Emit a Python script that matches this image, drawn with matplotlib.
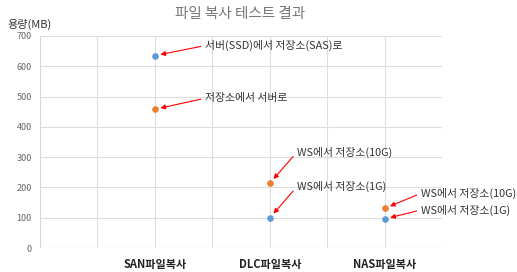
import matplotlib.pyplot as plt

plt.rcParams['font.family'] = ['Noto Sans CJK KR', 'DejaVu Sans']

categories = ['SAN파일복사', 'DLC파일복사', 'NAS파일복사']
cat_x = [1, 2, 3]
blue_vals = [635, 100, 96]
orange_vals = [458, 214, 131]
blue_notes = ['서버(SSD)에서 저장소(SAS)로', 'WS에서 저장소(1G)', 'WS에서 저장소(1G)']
orange_notes = ['저장소에서 서버로', 'WS에서 저장소(10G)', 'WS에서 저장소(10G)']

# text offsets in pixels from each point
blue_off = [(50, 10), (27, 31), (36, 9)]
orange_off = [(50, 11), (27, 31), (36, 15)]

fig = plt.figure(figsize=(5.17, 2.72), dpi=100)
ax = fig.add_axes([0.0774, 0.088, 0.778, 0.78])

ax.scatter(cat_x, blue_vals, color='#5B9BD5', s=14, zorder=3)
ax.scatter(cat_x, orange_vals, color='#ED7D31', s=14, zorder=3)

for x, y, t, off in zip(cat_x, blue_vals, blue_notes, blue_off):
    ax.annotate(t, xy=(x, y), xytext=off, textcoords='offset pixels',
                ha='left', va='center', fontsize=7.8, color='#333333',
                arrowprops=dict(arrowstyle='-|>', color='red', lw=0.8,
                                mutation_scale=7, shrinkA=1, shrinkB=4,
                                relpos=(0, 0.5)))
for x, y, t, off in zip(cat_x, orange_vals, orange_notes, orange_off):
    ax.annotate(t, xy=(x, y), xytext=off, textcoords='offset pixels',
                ha='left', va='center', fontsize=7.8, color='#333333',
                arrowprops=dict(arrowstyle='-|>', color='red', lw=0.8,
                                mutation_scale=7, shrinkA=1, shrinkB=4,
                                relpos=(0, 0.5)))

ax.set_xlim(0, 3.5)
ax.set_ylim(0, 700)
ax.set_yticks(range(0, 701, 100))
xt = [i * 0.5 for i in range(8)]
ax.set_xticks(xt)
ax.set_xticklabels(['' if v not in cat_x else categories[cat_x.index(v)] for v in xt],
                   fontweight='bold', fontsize=8, color='#222222')
ax.tick_params(length=0, labelsize=6.5, labelcolor='#666666', axis='y', pad=6)
ax.tick_params(axis='x', length=0, pad=7)
ax.grid(True, color='#DDDDDD', lw=0.8)
ax.set_axisbelow(True)
for s in ax.spines.values():
    s.set_visible(False)
ax.axhline(0, color='#D9D9D9', lw=0.8)
ax.axvline(0, color='#D9D9D9', lw=0.8)

fig.text(0.465, 0.95, '파일 복사 테스트 결과', ha='center', va='center', fontsize=10.5, color='#777777')
fig.text(0.015, 0.91, '용량(MB)', ha='left', va='center', fontsize=8, color='#333333')

fig.savefig('out.png', dpi=100)
